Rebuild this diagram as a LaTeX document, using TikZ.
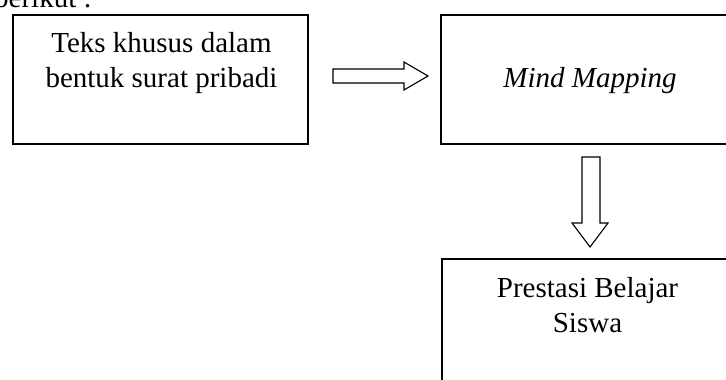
\documentclass[tikz,border=0pt]{standalone}
\usepackage{fontspec}
\setmainfont{Liberation Serif}
\tikzset{
  kotak/.style={draw,line width=1.6pt,minimum width=295pt,minimum height=129pt,inner sep=0pt},
  tulisan/.style={inner sep=0pt,align=center,font=\fontsize{29}{35}\selectfont},
  panah/.style={draw,line width=1.1pt,fill=white,line join=miter}
}
\begin{document}
\begin{tikzpicture}[x=1pt,y=-1pt]
  \useasboundingbox (0,0) rectangle (726,380);
  \clip (0,0) rectangle (726,380);
  % kotak
  \node[kotak] (surat) at (160.5,79.5) {};
  \node[kotak] (mind) at (588.5,79.5) {};
  \node[kotak] (prestasi) at (589.5,323.5) {};
  % tulisan
  \node[tulisan,anchor=base west] (berikut) at (-6,7) {berikut :};
  \node[tulisan,anchor=base] (surat-txt) at (161.5,87) {Teks khusus dalam\\bentuk surat pribadi};
  \node[tulisan,anchor=base] (mind-txt) at (590,87) {\itshape Mind Mapping};
  \node[tulisan,anchor=base] (prestasi-txt) at (587.5,332) {Prestasi Belajar\\Siswa};
  % panah kanan
  \coordinate (A1) at (333,69);
  \coordinate (A2) at (404,69);
  \coordinate (A3) at (404,62);
  \coordinate (A4) at (428,76);
  \coordinate (A5) at (404,90);
  \coordinate (A6) at (404,83);
  \coordinate (A7) at (333,83);
  \draw[panah] (A1) -- (A2) -- (A3) -- (A4) -- (A5) -- (A6) -- (A7) -- cycle;
  % panah bawah
  \coordinate (B1) at (582,157);
  \coordinate (B2) at (600,157);
  \coordinate (B3) at (600,223);
  \coordinate (B4) at (608,223);
  \coordinate (B5) at (590,247);
  \coordinate (B6) at (572,223);
  \coordinate (B7) at (582,223);
  \draw[panah] (B1) -- (B2) -- (B3) -- (B4) -- (B5) -- (B6) -- (B7) -- cycle;
\end{tikzpicture}
\end{document}
